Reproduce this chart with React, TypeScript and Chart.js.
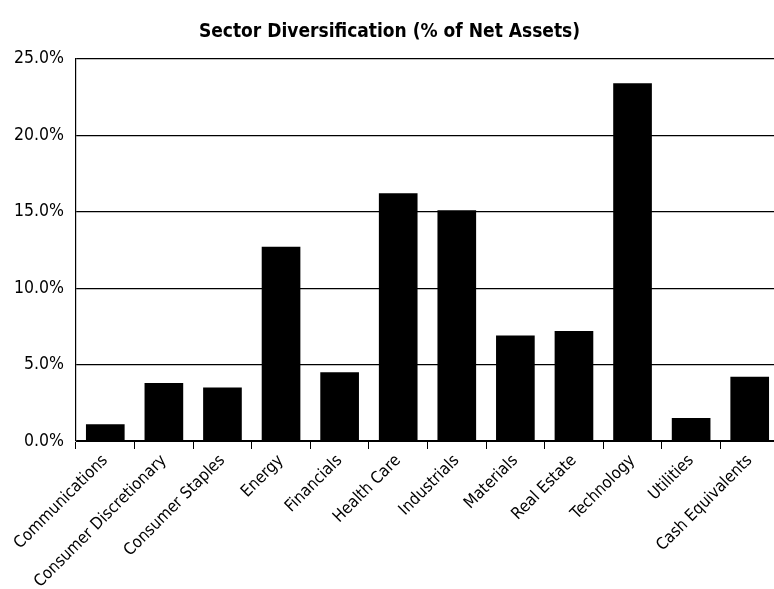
import { useEffect, useRef } from "react";
import { Chart, registerables } from "chart.js";

Chart.register(...registerables);

const FONT = "'Liberation Sans Narrow', 'DejaVu Sans Condensed', 'Liberation Sans', sans-serif";

const titleText = "Sector Diversification (% of Net Assets)";

const categories = [
  "Communications",
  "Consumer Discretionary",
  "Consumer Staples",
  "Energy",
  "Financials",
  "Health Care",
  "Industrials",
  "Materials",
  "Real Estate",
  "Technology",
  "Utilities",
  "Cash Equivalents",
];

const values = [1.1, 3.8, 3.5, 12.7, 4.5, 16.2, 15.1, 6.9, 7.2, 23.4, 1.5, 4.2];

const yMin = 0;
const yMax = 25;
const yStep = 5;

export default function App() {
  const ref = useRef<HTMLCanvasElement>(null);

  useEffect(() => {
    const canvas = ref.current;
    if (!canvas) return;
    const chart = new Chart(canvas, {
      type: "bar",
      data: {
        labels: categories,
        datasets: [
          {
            data: values,
            backgroundColor: "#000000",
            borderWidth: 0,
            barPercentage: 0.66,
            categoryPercentage: 1,
          },
        ],
      },
      options: {
        animation: false,
        responsive: false,
        devicePixelRatio: 1,
        layout: { padding: 0 },
        plugins: {
          legend: { display: false },
          tooltip: { enabled: false },
          title: {
            display: true,
            text: titleText,
            color: "#000",
            font: { family: FONT, size: 19, weight: "bold" },
            padding: { top: 21, bottom: 15 },
          },
        },
        scales: {
          x: {
            grid: {
              display: true,
              offset: true,
              drawOnChartArea: false,
              drawTicks: true,
              tickLength: 8,
              color: "#000",
              lineWidth: 1,
            },
            border: { display: true, color: "#000", width: 1 },
            ticks: {
              minRotation: 45,
              maxRotation: 45,
              autoSkip: false,
              color: "#000",
              font: { family: FONT, size: 16.5 },
              padding: 2,
            },
            afterFit: (s: any) => {
              s.height = 148;
            },
          },
          y: {
            min: yMin,
            max: yMax,
            ticks: {
              stepSize: yStep,
              color: "#000",
              font: { family: FONT, size: 17.5 },
              padding: 12,
              callback: (v: any) => Number(v).toFixed(1) + "%",
            },
            grid: { color: "#000", lineWidth: 1.2, drawTicks: false },
            border: { display: true, color: "#000", width: 1.2 },
            afterFit: (s: any) => {
              s.width = 76;
            },
          },
        },
      },
    });
    return () => chart.destroy();
  }, []);

  return (
    <div
      style={{
        position: "absolute",
        left: 0,
        top: 0,
        width: 774,
        height: 589,
        overflow: "hidden",
        background: "#fff",
      }}
    >
      <canvas ref={ref} width={779} height={589} style={{ display: "block" }} />
    </div>
  );
}
